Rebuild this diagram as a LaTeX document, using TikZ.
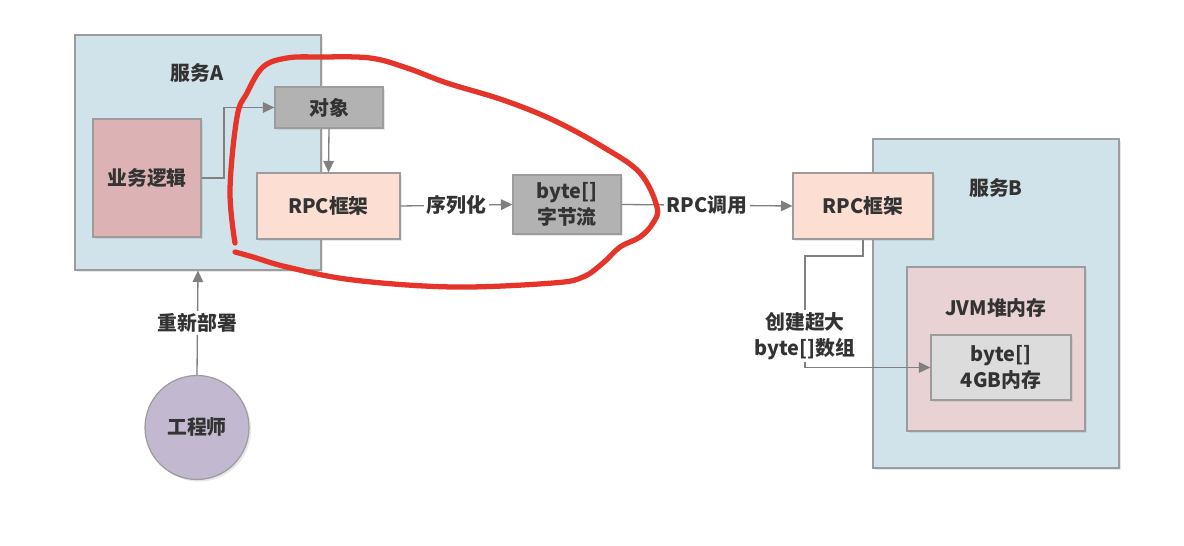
\documentclass[tikz,border=0pt]{standalone}
\usepackage{fontspec}
\setmainfont{Noto Sans CJK SC}
\usepackage{xcolor}
\usepackage{tikz}
\usetikzlibrary{positioning,arrows.meta,shadows}

\definecolor{svcblue}{HTML}{D1E3EA}
\definecolor{logicpink}{HTML}{DCB2B4}
\definecolor{objgray}{HTML}{B2B2B2}
\definecolor{rpcpeach}{HTML}{FCDFD2}
\definecolor{jvmpink}{HTML}{E9D2D4}
\definecolor{heapgray}{HTML}{DCDCDC}
\definecolor{engpurple}{HTML}{C2B9D1}
\definecolor{edgegray}{HTML}{9C9C9C}
\definecolor{linegray}{HTML}{808080}
\definecolor{txtgray}{HTML}{333333}
\definecolor{markred}{HTML}{E5352A}

\begin{document}
\begin{tikzpicture}[
    x=0.02cm, y=-0.02cm,
    every node/.style={text=txtgray, font=\fontsize{11.3pt}{14.5pt}\selectfont\bfseries},
    box/.style={draw=edgegray, line width=0.7pt, align=center, inner sep=0pt,
        drop shadow={shadow xshift=1.2pt, shadow yshift=-1.2pt, opacity=0.18}},
    arr/.style={-{Triangle[length=6.5pt,width=6pt]}, draw=linegray, line width=0.75pt},
    lbl/.style={fill=white, inner sep=1.5pt, align=center},
    pen/.style={draw=markred, line width=3pt, line cap=round, line join=round},
]
\useasboundingbox (0,0) rectangle (1184,546);

% Service A (left)
\node[box, fill=svcblue, minimum width=4.92cm, minimum height=4.70cm] (svcA) at (198,152.5) {};
\node (svcAname) at (197,73) {服务A};
\node[box, fill=logicpink, minimum width=2.16cm, minimum height=2.36cm] (logic) at (147,178) {业务逻辑};
\node[box, fill=objgray, minimum width=2.16cm, minimum height=0.82cm] (obj) at (329,107.5) {对象};
\node[box, fill=rpcpeach, minimum width=2.86cm, minimum height=1.32cm] (rpcA) at (328.5,206) {RPC框架};
\node[box, fill=objgray, minimum width=2.16cm, minimum height=1.18cm] (bytes) at (567,204.5) {byte[]\\字节流};

% Service B (right)
\node[box, fill=svcblue, minimum width=4.92cm, minimum height=6.58cm] (svcB) at (996,303.5) {};
\node (svcBname) at (996,188) {服务B};
\node[box, fill=rpcpeach, minimum width=2.80cm, minimum height=1.32cm] (rpcB) at (863,206) {RPC框架};
\node[box, fill=jvmpink, minimum width=3.56cm, minimum height=3.28cm] (jvm) at (996,349) {};
\node (jvmname) at (996,308) {JVM堆内存};
\node[box, fill=heapgray, minimum width=2.80cm, minimum height=1.30cm] (heap) at (1001,367.5) {byte[]\\4GB内存};

% Engineer
\node[box, circle, fill=engpurple, minimum size=2.08cm] (eng) at (197,427.5) {工程师};

% connectors
\coordinate (split) at (224,178);
\coordinate (bend) at (805,256);
\draw[arr] (logic.east) -- (split) |- (obj.west);
\draw[arr] (obj.south) -- (rpcA.north);
\draw[arr] (rpcA.east) -- node[lbl] {序列化} (bytes.west);
\draw[arr] (bytes.east) -- node[lbl] {RPC调用} (rpcB.west);
\draw[arr] (rpcB.south) |- (bend) |- node[lbl, pos=0.36] {创建超大\\byte[]数组} (heap.west);
\draw[arr] (eng.north) -- node[lbl] {重新部署} (svcA.south);

% hand-drawn mark
\draw[pen] plot[smooth, tension=0.6] coordinates {
    (235,243) (230,190) (237,117) (247,93) (263,67) (287,58) (320,57)
    (370,58) (407,68) (447,83) (503,100) (553,120) (603,147) (640,173)
    (657,207) (653,223) (640,237) (620,247) (603,263) (583,277) (553,283)
    (453,287) (353,280) (287,267) (253,257) (235,252)};
\end{tikzpicture}
\end{document}
